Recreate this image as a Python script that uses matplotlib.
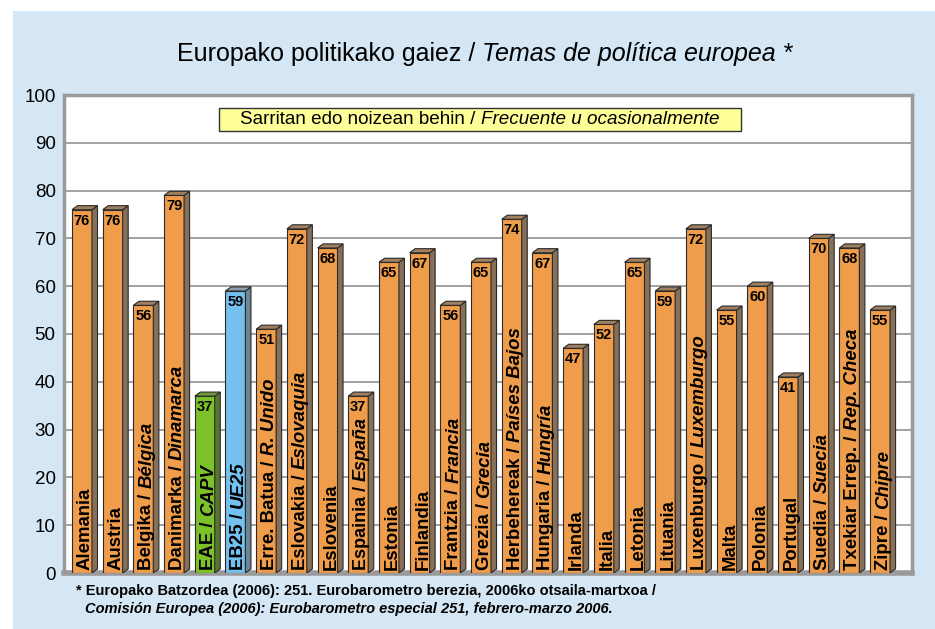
import matplotlib
matplotlib.use('Agg')
import matplotlib.pyplot as plt
from matplotlib.patches import Rectangle, Polygon

plt.rcParams['font.family'] = ['Liberation Sans', 'DejaVu Sans']

# Data #
names_eu = ['Alemania', 'Austria', 'Belgika / ', 'Danimarka / ', 'EAE / ', 'EB25 / ',
            'Erre. Batua / ', 'Eslovakia / ', 'Eslovenia', 'Espainia / ', 'Estonia',
            'Finlandia', 'Frantzia / ', 'Grezia / ', 'Herbehereak / ', 'Hungaria / ',
            'Irlanda', 'Italia', 'Letonia', 'Lituania', 'Luxenburgo / ', 'Malta',
            'Polonia', 'Portugal', 'Suedia / ', 'Txekiar Errep. / ', 'Zipre / ']
names_es = ['', '', 'Bélgica', 'Dinamarca', 'CAPV', 'UE25',
            'R. Unido', 'Eslovaquia', '', 'España', '',
            '', 'Francia', 'Grecia', 'Países Bajos', 'Hungría',
            '', '', '', '', 'Luxemburgo', '',
            '', '', 'Suecia', 'Rep. Checa', 'Chipre']
values = [76, 76, 56, 79, 37, 59, 51, 72, 68, 37, 65, 67, 56, 65, 74, 67,
          47, 52, 65, 59, 72, 55, 60, 41, 70, 68, 55]
yticks = list(range(0, 101, 10))

# Colours #
c_front = {'EAE / ': '#7DC12A', 'EB25 / ': '#74C0EE'}
c_side = {'EAE / ': '#56782E', 'EB25 / ': '#6E8596'}
c_top = {'EAE / ': '#6E9A3A', 'EB25 / ': '#8AA0B0'}
orange, orange_side, orange_top = '#F09D4B', '#86705A', '#A0805E'

fig = plt.figure(figsize=(9.35, 6.29), dpi=100)
fig.patch.set_facecolor('white')
fig.patches.append(Rectangle((13 / 935, 0), 1, 1 - 11 / 629, transform=fig.transFigure,
                             facecolor='#D5E7F5', edgecolor='none', zorder=-10))

ax = fig.add_axes([64 / 935, 1 - 573 / 629, (912 - 64) / 935, (573 - 95) / 629])
ax.set_facecolor('white')
ax.set_xlim(-0.586, 27.04)
ax.set_ylim(0, 100)
ax.set_yticks(yticks)
ax.set_xticks([])
ax.tick_params(axis='y', length=0, labelsize=13.5, pad=6)
ax.grid(axis='y', color='#A2A2A2', lw=1.4, zorder=0)
for s in ax.spines.values():
    s.set_color('#9A9A9A')
    s.set_linewidth(2.5)
ax.spines['bottom'].set_linewidth(4)

w, dx, dy = 0.65, 0.18, 0.85
lab_size = 13.4
lab_dx = 0.11   # centre the glyphs (not the full text box) on the bar front
labels = []
for i, (eu, es, v) in enumerate(zip(names_eu, names_es, values)):
    fc = c_front.get(eu, orange)
    sc = c_side.get(eu, orange_side)
    tc = c_top.get(eu, orange_top)
    ax.bar(i, v, width=w, color=fc, edgecolor='#2A2A2A', lw=0.8, zorder=3)
    x1 = i + w / 2
    x0 = i - w / 2
    ax.add_patch(Polygon([(x1, 0), (x1 + dx, dy), (x1 + dx, v + dy), (x1, v)],
                         closed=True, facecolor=sc, edgecolor='#2A2A2A', lw=0.8, zorder=3))
    ax.add_patch(Polygon([(x0, v), (x0 + dx, v + dy), (x1 + dx, v + dy), (x1, v)],
                         closed=True, facecolor=tc, edgecolor='#2A2A2A', lw=0.8, zorder=3))
    ax.text(i, v - 0.8, str(v), ha='center', va='top', fontsize=10.5,
            fontweight='bold', zorder=5)
    t1 = ax.text(i + lab_dx, 0.7, eu, rotation=90, rotation_mode='anchor', ha='left',
                 va='center', fontsize=lab_size, fontweight='bold', zorder=5)
    t2 = None
    if es:
        t2 = ax.annotate(es, xy=(i + lab_dx, 1), xycoords=('data', t1), rotation=90,
                         rotation_mode='anchor', ha='left', va='center', fontsize=lab_size,
                         fontweight='bold', fontstyle='italic', zorder=5)
    labels.append((v, t1, t2))

fig.canvas.draw()
r = fig.canvas.get_renderer()

# Shrink labels that would run into the value #
for v, t1, t2 in labels:
    y_lo = ax.transData.transform((0, 0.7))[1]
    y_hi = ax.transData.transform((0, v - 4.5))[1]
    top = (t2 if t2 is not None else t1).get_window_extent(r).y1
    if top > y_hi:
        k = (y_hi - y_lo) / (top - y_lo)
        t1.set_fontsize(lab_size * k)
        if t2 is not None:
            t2.set_fontsize(lab_size * k)

# Title and legend box (two styles on one line) #
def two_part(y, a, b, size, cx):
    ta = fig.text(0, y, a, fontsize=size, ha='left', va='center', zorder=3)
    tb = fig.text(0, y, b, fontsize=size, ha='left', va='center', fontstyle='italic',
                  zorder=3)
    wa = ta.get_window_extent(r).width / fig.bbox.width
    wb = tb.get_window_extent(r).width / fig.bbox.width
    x0 = cx - (wa + wb) / 2
    ta.set_x(x0)
    tb.set_x(x0 + wa)
    return x0, wa + wb

two_part(1 - 54 / 629, 'Europako politikako gaiez / ', 'Temas de política europea *',
         18, 485 / 935)
lx, lw = two_part(1 - 119 / 629, 'Sarritan edo noizean behin / ', 'Frecuente u ocasionalmente',
                  13.6, 480 / 935)
pad = 21 / 935
box = Rectangle((lx - pad, 1 - 131 / 629), lw + 2 * pad, 23 / 629,
                transform=fig.transFigure, facecolor='#FFFF99',
                edgecolor='#333333', lw=1, zorder=2)
fig.add_artist(box)

# Footnote #
fig.text(76 / 935, 1 - 591 / 629,
         '* Europako Batzordea (2006): 251. Eurobarometro berezia, 2006ko otsaila-martxoa /',
         fontsize=10.5, fontweight='bold', va='center')
fig.text(85 / 935, 1 - 609 / 629,
         'Comisión Europea (2006): Eurobarometro especial 251, febrero-marzo 2006.',
         fontsize=10.5, fontweight='bold', fontstyle='italic', va='center')

fig.savefig('out.png', dpi=100)
